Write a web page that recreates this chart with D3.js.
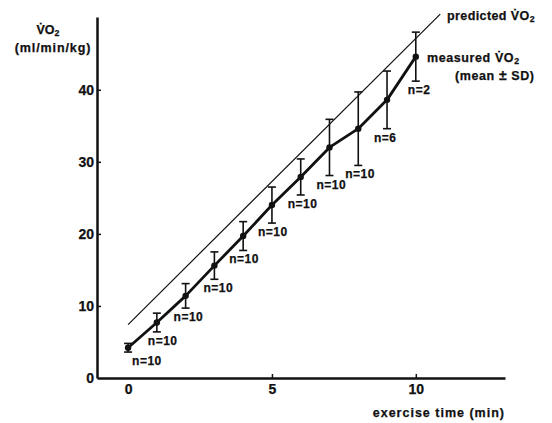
<!DOCTYPE html>
<html>
<head>
<meta charset="utf-8">
<script src="https://cdn.jsdelivr.net/npm/d3@7"></script>
<style>
  body { margin: 0; background: #fff; }
  text { font-family: "Liberation Sans", Arial, sans-serif; font-weight: bold; fill: #111; stroke: #111; stroke-width: 0.25; }
</style>
</head>
<body>
<svg id="chart"></svg>
<script>
// exercise time (min)
const times = [0, 1, 2, 3, 4, 5, 6, 7, 8, 9, 10];
// measured VO2 mean and SD (ml/min/kg)
const meanVO2 = [4.2, 7.7, 11.4, 15.6, 19.7, 24.0, 27.9, 32.0, 34.6, 38.6, 44.6];
const sdVO2 = [0.6, 1.3, 1.7, 1.9, 2.0, 2.5, 2.5, 3.9, 5.1, 4.0, 3.4];
const nSubjects = [10, 10, 10, 10, 10, 10, 10, 10, 10, 6, 2];
// predicted VO2 line end points
const predictedTime = [0, 10.85];
const predictedVO2 = [7.4, 50.5];
const xTicks = [0, 5, 10];
const yTicks = [0, 10, 20, 30, 40];

// horizontal nudge of each "n=" label (layout only)
const labelNudge = [4, -9, -12, -11, -14, -14, -13, -13, -13, -13, -8];

const width = 552, height = 423;
const svg = d3.select("#chart").attr("width", width).attr("height", height);

const x = d3.scaleLinear().domain([-1.08, 13.1]).range([97, 505]);
const y = d3.scaleLinear().domain([0, 50.1]).range([378, 17]);

// axes
const xAxis = svg.append("g")
  .attr("transform", "translate(0," + y(0) + ")")
  .call(d3.axisBottom(x).tickValues(xTicks).tickSizeInner(-4).tickSizeOuter(0).tickPadding(6));
const yAxis = svg.append("g")
  .attr("transform", "translate(" + x.range()[0] + ",0)")
  .call(d3.axisLeft(y).tickValues(yTicks).tickSizeInner(-4).tickSizeOuter(0).tickPadding(3));

[xAxis, yAxis].forEach(g => {
  g.select(".domain").attr("stroke", "#111").attr("stroke-width", 2.5);
  g.selectAll(".tick line").attr("stroke", "#111").attr("stroke-width", 1.5);
  g.selectAll(".tick text").attr("font-size", 14).attr("fill", "#111")
    .style("font-family", "'Liberation Sans', Arial, sans-serif").style("font-weight", "bold");
});
xAxis.selectAll(".tick").filter(d => d === 0).select("line").remove();
yAxis.selectAll(".tick").filter(d => d === 0).select("line").remove();

// predicted line
const predicted = predictedTime.map((t, i) => [t, predictedVO2[i]]);
svg.append("path")
  .datum(predicted)
  .attr("fill", "none")
  .attr("stroke", "#111")
  .attr("stroke-width", 1.2)
  .attr("d", d3.line().x(d => x(d[0])).y(d => y(d[1])));

const rows = times.map((t, i) => ({ t: t, m: meanVO2[i], sd: sdVO2[i], n: nSubjects[i], nudge: labelNudge[i] }));

// error bars
const cap = 4;
const bars = svg.append("g").attr("stroke", "#111").attr("stroke-width", 1.6);
rows.forEach(d => {
  const cx = x(d.t);
  bars.append("line").attr("x1", cx).attr("x2", cx).attr("y1", y(d.m + d.sd)).attr("y2", y(d.m - d.sd));
  bars.append("line").attr("x1", cx - cap).attr("x2", cx + cap).attr("y1", y(d.m + d.sd)).attr("y2", y(d.m + d.sd));
  bars.append("line").attr("x1", cx - cap).attr("x2", cx + cap).attr("y1", y(d.m - d.sd)).attr("y2", y(d.m - d.sd));
});

// measured line
svg.append("path")
  .datum(rows)
  .attr("fill", "none")
  .attr("stroke", "#111")
  .attr("stroke-width", 2.8)
  .attr("stroke-linejoin", "round")
  .attr("d", d3.line().x(d => x(d.t)).y(d => y(d.m)));

svg.append("g").selectAll("circle")
  .data(rows)
  .enter()
  .append("circle")
  .attr("cx", d => x(d.t))
  .attr("cy", d => y(d.m))
  .attr("r", 3.2)
  .attr("fill", "#111");

// n labels below each bar
svg.append("g").selectAll("text")
  .data(rows)
  .enter()
  .append("text")
  .attr("x", d => x(d.t) + d.nudge)
  .attr("y", d => y(d.m - d.sd) + 13)
  .attr("font-size", 12)
  .attr("letter-spacing", 0.5)
  .text(d => "n=" + d.n);

// VO2 label helper: V with dot, O, subscript 2
function vo2(sel, size) {
  sel.append("tspan").text("V\u0307O");
  sel.append("tspan").attr("font-size", size * 0.7).attr("dy", size * 0.15).text("2");
}

// y axis title
const yt = svg.append("text").attr("x", 48).attr("y", 34).attr("text-anchor", "middle").attr("font-size", 12.5);
vo2(yt, 12.5);
svg.append("text").attr("x", 53).attr("y", 52).attr("text-anchor", "middle").attr("font-size", 12.5)
  .attr("letter-spacing", 0.9).text("(ml/min/kg)");

// x axis title
svg.append("text").attr("x", 505).attr("y", 417).attr("text-anchor", "end").attr("font-size", 12.5)
  .attr("letter-spacing", 1).text("exercise time (min)");

// series labels
const pl = svg.append("text").attr("x", 447).attr("y", 20).attr("font-size", 12.5).attr("letter-spacing", 0.4);
pl.append("tspan").text("predicted  ");
vo2(pl, 12.5);

const ml = svg.append("text").attr("x", 427).attr("y", 62).attr("font-size", 12.5).attr("letter-spacing", 0.6);
ml.append("tspan").text("measured  ");
vo2(ml, 12.5);
const sdl = svg.append("text").attr("x", 455).attr("y", 80).attr("font-size", 12.5).attr("letter-spacing", 0.6);
sdl.append("tspan").text("(mean ");
sdl.append("tspan").attr("font-size", 14).text("\u00B1");
sdl.append("tspan").text(" SD)");
</script>
</body>
</html>
